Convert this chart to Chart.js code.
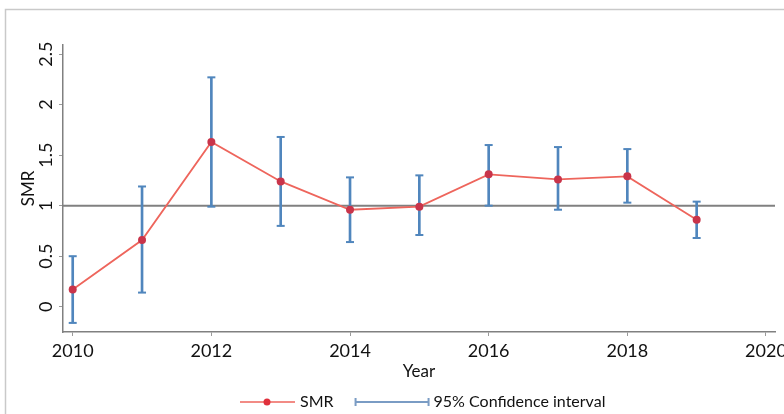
<!DOCTYPE html>
<html>
  <head>
    <script src="https://cdn.jsdelivr.net/npm/chart.js@4"></script>
    <style>
      html, body { margin: 0; padding: 0; background: #fff; }
      #wrap { width: 784px; height: 414px; }
    </style>
  </head>

  <body>
    <div id="wrap">
      <canvas id="canvas"></canvas>
    </div>
    <script>
      // yearly standardised mortality ratio with 95% CI
      const years = [2010, 2011, 2012, 2013, 2014, 2015, 2016, 2017, 2018, 2019];
      const smr = [0.17, 0.66, 1.63, 1.24, 0.96, 0.99, 1.31, 1.26, 1.29, 0.86];
      const ciLow = [-0.16, 0.14, 0.99, 0.80, 0.64, 0.71, 1.00, 0.96, 1.03, 0.68];
      const ciHigh = [0.50, 1.19, 2.27, 1.68, 1.28, 1.30, 1.60, 1.58, 1.56, 1.04];

      const xTicks = [2010, 2012, 2014, 2016, 2018, 2020];
      const yTicks = [0, 0.5, 1, 1.5, 2, 2.5];
      const refValue = 1;

      const xMin = 2009.86, xMax = 2020.13;
      const yMin = -0.25, yMax = 2.59;

      const RED = '#ee655c';
      const DOT = '#c9344a';
      const BLUE = '#5086bd';
      const GREY = '#808080';
      const FONT = 'Lato, "Open Sans", sans-serif';

      Chart.defaults.font.family = FONT;
      Chart.defaults.color = '#111';

      // frame round the figure
      const frame = {
        id: 'frame',
        beforeDraw(chart) {
          const ctx = chart.ctx;
          ctx.save();
          ctx.strokeStyle = '#c9c9c9';
          ctx.lineWidth = 1.5;
          ctx.strokeRect(5.5, 9.5, chart.width + 10, chart.height + 10);
          ctx.restore();
        },
      };

      // y tick labels, turned to read upwards
      const yLabels = {
        id: 'yLabels',
        afterDraw(chart) {
          const ctx = chart.ctx;
          const y = chart.scales.y;
          ctx.save();
          ctx.font = '18px ' + FONT;
          ctx.fillStyle = '#111';
          ctx.textAlign = 'center';
          ctx.textBaseline = 'middle';
          yTicks.forEach((v) => {
            ctx.save();
            ctx.translate(46, y.getPixelForValue(v));
            ctx.rotate(-Math.PI / 2);
            ctx.fillText(String(v), 0, 0);
            ctx.restore();
          });
          ctx.restore();
        },
      };

      // legend under the axis title
      const legendRow = {
        id: 'legendRow',
        afterDraw(chart) {
          const ctx = chart.ctx;
          const cy = 402;
          let x = 240;
          ctx.save();
          ctx.font = '16px ' + FONT;
          ctx.fillStyle = '#111';
          ctx.textBaseline = 'middle';

          // SMR: line with marker
          ctx.strokeStyle = RED;
          ctx.lineWidth = 1.5;
          ctx.beginPath();
          ctx.moveTo(x, cy);
          ctx.lineTo(x + 55, cy);
          ctx.stroke();
          ctx.fillStyle = '#e0303c';
          ctx.beginPath();
          ctx.arc(x + 27, cy, 3.5, 0, Math.PI * 2);
          ctx.fill();
          ctx.fillStyle = '#111';
          x += 60;
          ctx.fillText('SMR', x, cy);
          x += ctx.measureText('SMR').width + 22;

          // CI: line with caps
          ctx.strokeStyle = '#7a9cc4';
          ctx.lineWidth = 2;
          ctx.beginPath();
          ctx.moveTo(x, cy);
          ctx.lineTo(x + 73, cy);
          ctx.moveTo(x, cy - 4);
          ctx.lineTo(x, cy + 4);
          ctx.moveTo(x + 73, cy - 4);
          ctx.lineTo(x + 73, cy + 4);
          ctx.stroke();
          x += 78;
          ctx.fillText('95% Confidence interval', x, cy);
          ctx.restore();
        },
      };

      const axisLine = { display: true, color: GREY, width: 1.5 };

      new Chart(document.getElementById('canvas').getContext('2d'), {
        type: 'scatter',
        data: {
          datasets: [
            {
              type: 'line',
              label: 'SMR',
              data: years.map((yr, i) => ({ x: yr, y: smr[i] })),
              borderColor: RED,
              borderWidth: 1.8,
              pointRadius: 4,
              pointBackgroundColor: DOT,
              pointBorderWidth: 0,
              tension: 0,
              order: 0,
            },
            {
              type: 'bar',
              label: '95% Confidence interval',
              data: years.map((yr, i) => ({ x: yr, y: [ciLow[i], ciHigh[i]] })),
              backgroundColor: BLUE,
              barThickness: 2,
              order: 2,
            },
            {
              type: 'scatter',
              label: 'caps',
              data: years.flatMap((yr, i) => [
                { x: yr, y: ciLow[i] },
                { x: yr, y: ciHigh[i] },
              ]),
              pointStyle: 'line',
              pointRadius: 4,
              borderColor: BLUE,
              borderWidth: 2,
              order: 1,
            },
            {
              type: 'line',
              label: 'reference',
              data: [
                { x: xMin, y: refValue },
                { x: xMax, y: refValue },
              ],
              borderColor: GREY,
              borderWidth: 2,
              pointRadius: 0,
              order: 3,
            },
          ],
        },
        options: {
          responsive: true,
          maintainAspectRatio: false,
          animation: false,
          layout: {
            padding: { left: 0, right: 9, top: 45, bottom: 32 },
          },
          plugins: {
            legend: { display: false },
            tooltip: { enabled: false },
          },
          scales: {
            x: {
              type: 'linear',
              min: xMin,
              max: xMax,
              offset: false,
              afterBuildTicks: (s) => {
                s.ticks = xTicks.map((v) => ({ value: v }));
              },
              afterFit: (s) => {
                // let the last year label run off the edge
                s.height = 50;
                s.paddingLeft = 0;
                s.paddingRight = 0;
              },
              border: axisLine,
              grid: {
                offset: false,
                drawOnChartArea: false,
                drawTicks: true,
                tickLength: 4,
                color: '#9a9a9a',
              },
              ticks: {
                font: { size: 18 },
                padding: 4,
                maxRotation: 0,
                callback: (v) => String(v),
              },
              title: {
                display: true,
                text: 'Year',
                font: { size: 17 },
                padding: { top: 0, bottom: 0 },
              },
            },
            y: {
              type: 'linear',
              min: yMin,
              max: yMax,
              afterBuildTicks: (s) => {
                s.ticks = yTicks.map((v) => ({ value: v }));
              },
              afterFit: (s) => {
                s.width = 63;
              },
              border: axisLine,
              grid: {
                drawOnChartArea: false,
                drawTicks: true,
                tickLength: 4,
                color: '#9a9a9a',
              },
              ticks: {
                color: 'rgba(0,0,0,0)',
                font: { size: 18 },
              },
              title: {
                display: true,
                text: 'SMR',
                font: { size: 17 },
                padding: { top: 18, bottom: 0 },
              },
            },
          },
        },
        plugins: [frame, yLabels, legendRow],
      });
    </script>
  </body>
</html>
